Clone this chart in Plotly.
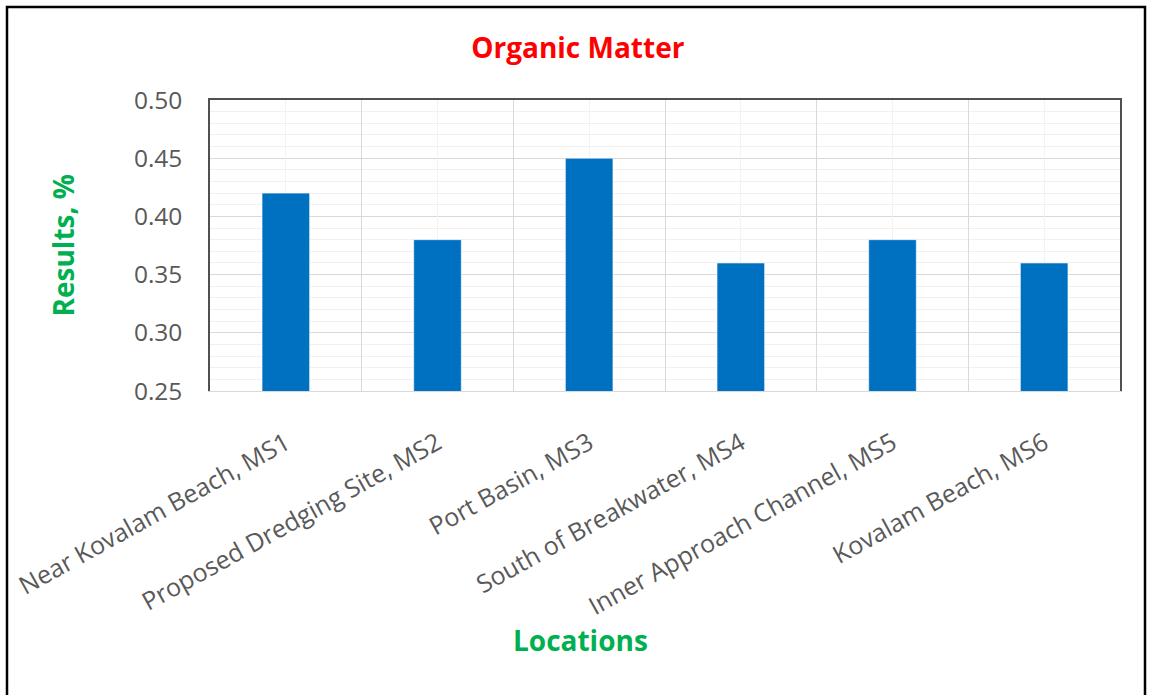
import plotly.graph_objects as go

categories = ["Near Kovalam Beach, MS1", "Proposed Dredging Site, MS2", "Port Basin, MS3",
              "South of Breakwater, MS4", "Inner Approach Channel, MS5", "Kovalam Beach, MS6"]
values = [0.42, 0.38, 0.45, 0.36, 0.38, 0.36]
y_ticks = [0.25, 0.30, 0.35, 0.40, 0.45, 0.50]

FONT = "Open Sans"
GRAY = "#595959"
GREEN = "#00B050"

fig = go.Figure()
fig.add_trace(go.Bar(
    x=categories, y=values, marker=dict(color="#0070C0", line=dict(color="rgba(255,255,255,0.6)", width=1)),
    width=0.314, xaxis="x", yaxis="y", hoverinfo="x+y"))
# invisible helper trace so the overlay axis knows the categories (gridlines at centers)
fig.add_trace(go.Scatter(x=categories, y=values, mode="markers", marker=dict(opacity=0),
                         xaxis="x2", yaxis="y", hoverinfo="skip", showlegend=False))

fig.update_layout(
    width=1151, height=695,
    margin=dict(l=210, r=31, t=100, b=304),
    paper_bgcolor="white", plot_bgcolor="white",
    showlegend=False,
    font=dict(family=FONT, color=GRAY),
    title=dict(text="<b>Organic Matter</b>", x=0.502, xref="container", y=0.93, yref="container",
               xanchor="center", yanchor="middle", font=dict(family=FONT, size=28, color="#FF0000")),
    xaxis=dict(type="category", tickson="boundaries", showgrid=True, gridcolor="#d9d9d9", gridwidth=1,
               tickangle=-29, tickfont=dict(family=FONT, size=25, color=GRAY),
               showline=True, linecolor="#d9d9d9", linewidth=1, ticks="", zeroline=False,
               range=[-0.5, 5.5], ticklabelstandoff=27),
    xaxis2=dict(type="category", overlaying="x", side="top", showgrid=True, gridcolor="#f2f2f2",
                showticklabels=False, showline=True, linecolor="#505050", linewidth=1.5, ticks="",
                range=[-0.5, 5.5], matches="x"),
    yaxis=dict(range=[0.25, 0.50], tickvals=y_ticks, tickformat=".2f",
               tickfont=dict(family=FONT, size=24.5, color=GRAY),
               showgrid=True, gridcolor="#d9d9d9", gridwidth=1,
               minor=dict(dtick=0.01, tick0=0.25, showgrid=True, gridcolor="#f0f0f0", gridwidth=1),
               showline=True, mirror=True, linecolor="#505050", linewidth=1.5,
               ticks="", ticklabelstandoff=21, zeroline=False),
    annotations=[
        dict(text="<b>Locations</b>", xref="paper", yref="paper", x=(580 - 210) / 910, y=(391 - 640) / 291,
             showarrow=False, xanchor="center", yanchor="middle", font=dict(family=FONT, size=28, color=GREEN)),
        dict(text="<b>Results, %</b>", xref="paper", yref="paper", x=(62 - 210) / 910, y=0.5,
             textangle=-90, showarrow=False, xanchor="center", yanchor="middle",
             font=dict(family=FONT, size=28, color=GREEN)),
    ],
    shapes=[dict(type="rect", xref="paper", yref="paper",
                 x0=(7 - 210) / 910, x1=(1145 - 210) / 910, y0=(391 - 705) / 291, y1=(391 - 7) / 291,
                 line=dict(color="black", width=2.5), fillcolor="rgba(0,0,0,0)", layer="above")],
    bargap=0.686,
)

fig.write_html("out.html", config={"displayModeBar": False},
               post_script="document.body.style.margin='0';document.body.style.padding='0';")
